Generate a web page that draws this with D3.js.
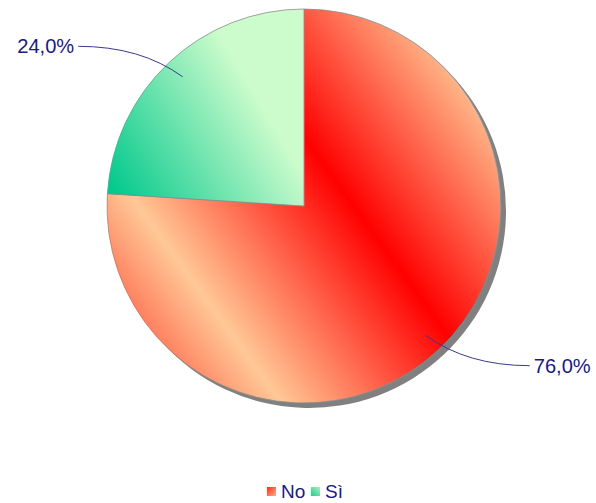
<!DOCTYPE html>
<html>
<head>
<meta charset="utf-8">
<script src="https://cdn.jsdelivr.net/npm/d3@7"></script>
<style>
html,body{margin:0;padding:0;background:#fff;}
svg{display:block;}
</style>
</head>
<body>
<script>
const categories = ["No", "Sì"];
const values = [76.0, 24.0];
const labels = ["76,0%", "24,0%"];

const W = 596, H = 503;
const cx = 304, cy = 206, R = 197;
const textColor = "#1a1a80";

const svg = d3.select("body").append("svg").attr("width", W).attr("height", H);
svg.append("rect").attr("width", W).attr("height", H).attr("fill", "#fff");

const defs = svg.append("defs");
// red axial gradient (reflected), coordinates relative to pie centre
const gNo = defs.append("linearGradient").attr("id", "gNo")
  .attr("gradientUnits", "userSpaceOnUse").attr("spreadMethod", "reflect")
  .attr("x1", -108.5).attr("y1", 79).attr("x2", 32.4).attr("y2", -23.6);
gNo.append("stop").attr("offset", 0).attr("stop-color", "#ffc896");
gNo.append("stop").attr("offset", 1).attr("stop-color", "#ff0000");

const gSi = defs.append("linearGradient").attr("id", "gSi")
  .attr("gradientUnits", "userSpaceOnUse")
  .attr("x1", -192).attr("y1", -11).attr("x2", -42).attr("y2", -101);
gSi.append("stop").attr("offset", 0).attr("stop-color", "#00c88c");
gSi.append("stop").attr("offset", 1).attr("stop-color", "#ccfccc");

const gLegNo = defs.append("linearGradient").attr("id", "gLegNo")
  .attr("x1", 0).attr("y1", 0).attr("x2", 1).attr("y2", 1);
gLegNo.append("stop").attr("offset", 0).attr("stop-color", "#ff2a1a");
gLegNo.append("stop").attr("offset", 1).attr("stop-color", "#ffb08a");
const gLegSi = defs.append("linearGradient").attr("id", "gLegSi")
  .attr("x1", 0).attr("y1", 1).attr("x2", 1).attr("y2", 0);
gLegSi.append("stop").attr("offset", 0).attr("stop-color", "#20cc90");
gLegSi.append("stop").attr("offset", 1).attr("stop-color", "#aaf0c0");

const fills = ["url(#gNo)", "url(#gSi)"];
const legFills = ["url(#gLegNo)", "url(#gLegSi)"];

const data = categories.map((c, i) => ({cat: c, value: values[i], label: labels[i], i}));
const pie = d3.pie().value(d => d.value).sort(null);
const arcs = pie(data);
const arc = d3.arc().innerRadius(0).outerRadius(R);

// shadow
svg.append("g").attr("transform", `translate(${cx + 5},${cy + 5})`)
  .selectAll("path").data(arcs).join("path")
  .attr("d", arc).attr("fill", "#808080");

// slices
svg.append("g").attr("transform", `translate(${cx},${cy})`)
  .selectAll("path").data(arcs).join("path")
  .attr("d", arc)
  .attr("fill", d => fills[d.data.i])
  .attr("stroke", "#8c8c8c")
  .attr("stroke-width", 0.8);

// labels with leader lines
const lab = svg.append("g");
arcs.forEach(d => {
  const a = (d.startAngle + d.endAngle) / 2;
  const sx = Math.sin(a), sy = -Math.cos(a);
  const sign = sx >= 0 ? 1 : -1;
  const inner = [cx + sx * R * 0.9, cy + sy * R * 0.9];
  const outer = [cx + sign * R * 1.146, cy + sy * R * 1.112];
  const ctrl = [inner[0] + sign * 42, outer[1]];
  const p = d3.path();
  p.moveTo(inner[0], inner[1]);
  p.quadraticCurveTo(ctrl[0], ctrl[1], outer[0], outer[1]);
  lab.append("path").attr("d", p.toString())
    .attr("fill", "none").attr("stroke", "#3a3a8c").attr("stroke-width", 1);
  lab.append("text")
    .attr("x", outer[0] + sign * 4)
    .attr("y", outer[1] + 7)
    .attr("text-anchor", sign > 0 ? "start" : "end")
    .attr("font-family", "Liberation Sans, Arial, sans-serif")
    .attr("font-size", 20)
    .attr("textLength", 57).attr("lengthAdjust", "spacingAndGlyphs")
    .attr("fill", textColor)
    .text(d.data.label);
});

// legend
const leg = svg.append("g");
const legX = [267, 311];
data.forEach((d, i) => {
  leg.append("rect").attr("x", legX[i]).attr("y", 487).attr("width", 9).attr("height", 9)
    .attr("fill", legFills[i]);
  leg.append("text").attr("x", legX[i] + 14).attr("y", 498)
    .attr("font-family", "Liberation Sans, Arial, sans-serif")
    .attr("font-size", 19).attr("fill", textColor)
    .text(d.cat);
});
</script>
</body>
</html>
